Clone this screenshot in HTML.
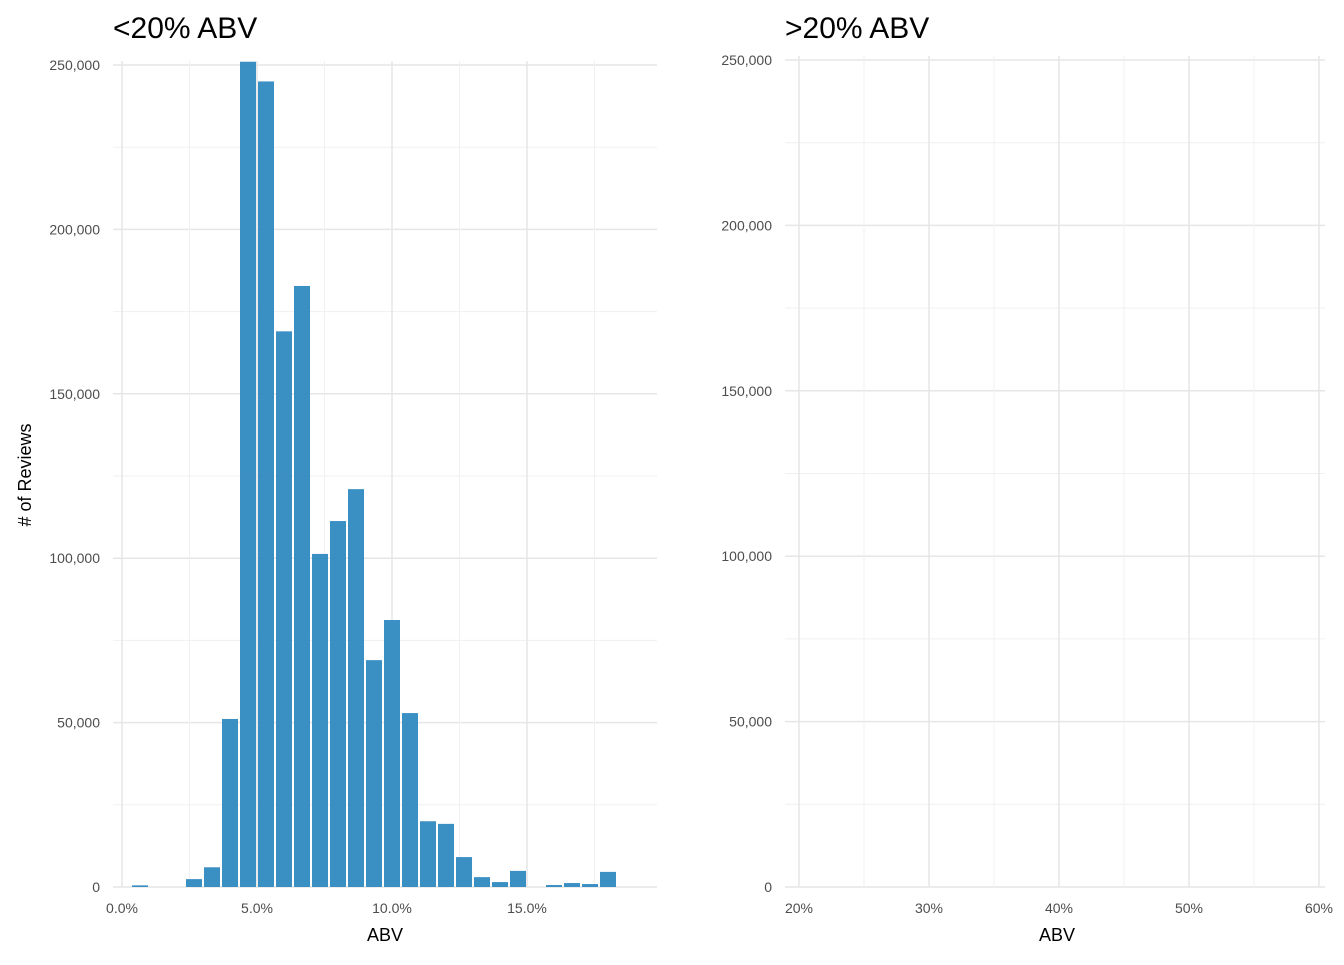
<!DOCTYPE html>
<html><head><meta charset="utf-8">
<style>
body{margin:0;background:#fff;font-family:"Liberation Sans",sans-serif;}
svg text{font-family:"Liberation Sans",sans-serif;}
</style></head>
<body>
<svg id="chart" width="1344" height="960" xmlns="http://www.w3.org/2000/svg">
<g id="left"></g>
<g id="right"></g>
<text x="113" y="38" font-size="30" fill="#000">&lt;20% ABV</text>
<text x="785" y="38" font-size="30" fill="#000">&gt;20% ABV</text>
<text x="385" y="941" font-size="18" text-anchor="middle">ABV</text>
<text x="1057" y="941" font-size="18" text-anchor="middle">ABV</text>
<text transform="translate(31,475) rotate(-90)" font-size="18" text-anchor="middle"># of Reviews</text>
</svg>
<script>
const binCenters=[0.667,2.667,3.333,4.0,4.667,5.333,6.0,6.667,7.333,8.0,8.667,9.333,10.0,10.667,11.333,12.0,12.667,13.333,14.0,14.667,16.0,16.667,17.333,18.0];
const binCounts=[500,2400,6000,51100,251000,245000,169000,182800,101300,111300,121000,69000,81200,52900,20000,19200,9100,3000,1500,4900,600,1200,900,4600];
const yTicks=[0,50000,100000,150000,200000,250000];
const yTickLabels=["0","50,000","100,000","150,000","200,000","250,000"];
const leftXTicks=[0,5,10,15];
const leftXLabels=["0.0%","5.0%","10.0%","15.0%"];
const rightXTicks=[20,30,40,50,60];
const rightXLabels=["20%","30%","40%","50%","60%"];
const binWidth=0.667;
const NS="http://www.w3.org/2000/svg";
function mk(parent,tag,attrs){const e=document.createElementNS(NS,tag);for(const k in attrs)e.setAttribute(k,attrs[k]);parent.appendChild(e);return e;}
function panel(g,x0,x1,yTop,xScale,xt,xl,minorXt,prefix){
  const yScale=v=>887-(v/250000)*(887-yTop);
  for(let i=0;i<yTicks.length;i++){
    if(i>0){const m=(yTicks[i]+yTicks[i-1])/2;
      const l=mk(g,'line',{x1:x0,x2:x1,y1:yScale(m),y2:yScale(m),stroke:'#f0f0f0','stroke-width':1});
      
      }
    const l=mk(g,'line',{x1:x0,x2:x1,y1:yScale(yTicks[i]),y2:yScale(yTicks[i]),stroke:'#e6e6e6','stroke-width':1.5});
    
    
    const t=mk(g,'text',{x:x0-13,y:yScale(yTicks[i])+5,'font-size':14,fill:'#4d4d4d','text-anchor':'end'});
    t.textContent=yTickLabels[i];
    
    
  }
  for(const m of minorXt){
    const l=mk(g,'line',{x1:xScale(m),x2:xScale(m),y1:yTop-4,y2:887,stroke:'#f0f0f0','stroke-width':1});
    
    
  }
  for(let i=0;i<xt.length;i++){
    const l=mk(g,'line',{x1:xScale(xt[i]),x2:xScale(xt[i]),y1:yTop-4,y2:887,stroke:'#e6e6e6','stroke-width':1.5});
    
    
    const t=mk(g,'text',{x:xScale(xt[i]),y:913,'font-size':14,fill:'#4d4d4d','text-anchor':'middle'});
    t.textContent=xl[i];
    
    
  }
  return yScale;
}
const L=document.getElementById('left'),R=document.getElementById('right');
const lx=v=>122+v*27;
const ly=panel(L,113,657,65,lx,leftXTicks,leftXLabels,[2.5,7.5,12.5,17.5],'left');
for(let i=0;i<binCenters.length;i++){
  const c=binCenters[i],v=binCounts[i];
  const r=mk(L,'rect',{x:lx(c-binWidth/2)+1,y:ly(v),width:binWidth*27-2,height:887-ly(v),fill:'#2b86be','fill-opacity':0.93});
  
  
}
const rx=v=>799+(v-20)*13;
panel(R,785,1325,60,rx,rightXTicks,rightXLabels,[25,35,45,55],'right');
</script>
</body></html>
